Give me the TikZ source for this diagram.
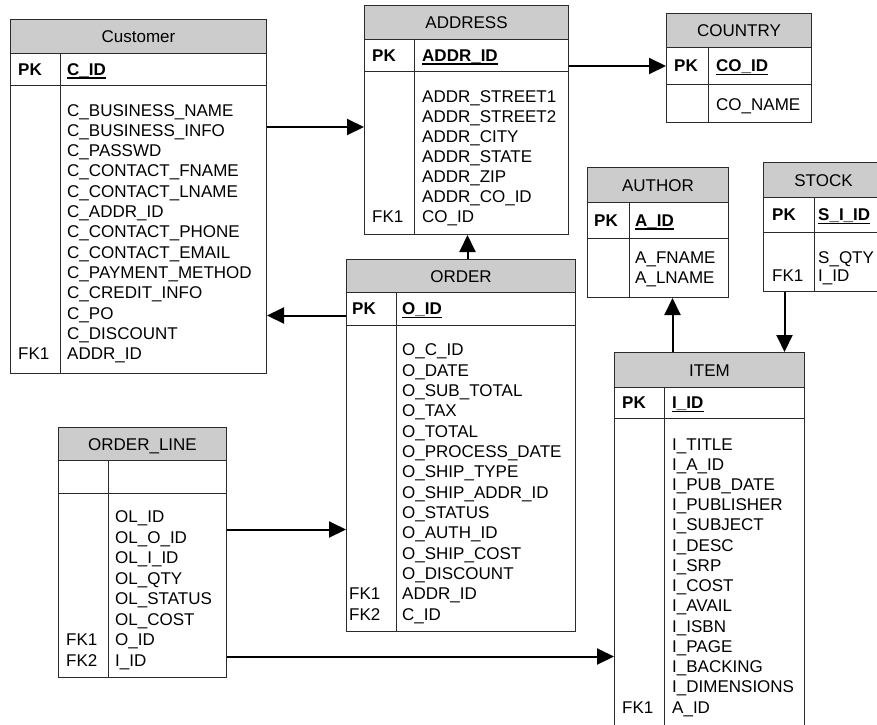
\documentclass[tikz,border=0pt]{standalone}
\usepackage{fontspec}
\setmainfont{Liberation Sans}
\usetikzlibrary{arrows.meta}
\definecolor{hdrgray}{HTML}{CCCCCC}
\definecolor{bordercol}{HTML}{2B2B2B}
\newcommand\ertext{\fontsize{17}{20.3}\selectfont}
\tikzset{
  hdr/.style={draw=bordercol, line width=1pt, fill=hdrgray, inner sep=0pt,
    text height=12.1pt, text depth=0pt, font=\ertext},
  rowbox/.style={draw=bordercol, line width=1pt, fill=white, inner sep=0pt},
  fld/.style={anchor=base west, inner sep=0pt, font=\ertext},
  cellkey/.style={anchor=west, inner sep=0pt, text height=12.1pt, text depth=0pt,
    font=\ertext\bfseries},
  divline/.style={draw=bordercol, line width=1pt},
  conn/.style={line width=2pt, -{Triangle[length=17pt,width=16pt]}}
}
% #1 name, #2 left, #3 top, #4 right, #5 header bottom, #6 key bottom, #7 bottom, #8 divider x, #9 title
\newcommand\ertable[9]{%
  \node[hdr, anchor=north west, minimum width={(#4-#2)*1pt}, minimum height={(#5-#3)*1pt}] (#1-h) at (#2,#3) {#9};
  \node[rowbox, anchor=north west, minimum width={(#4-#2)*1pt}, minimum height={(#6-#5)*1pt}] (#1-k) at (#2,#5) {};
  \node[rowbox, anchor=north west, minimum width={(#4-#2)*1pt}, minimum height={(#7-#6)*1pt}] (#1-b) at (#2,#6) {};
  \draw[divline] (#8,#5) -- (#8,#7);
}
% #1 name, #2 label x, #3 row centre y, #4 key x, #5 label, #6 key
\newcommand\erpk[6]{%
  \node[cellkey] (#1-pkl) at (#2,#3) {#5};
  \node[cellkey] (#1-pkt) at (#4,#3) {#6};
  \draw[line width=1.4pt] ([yshift=-2.8pt]#1-pkt.south west) -- ([yshift=-2.8pt]#1-pkt.south east);
}
% #1 name, #2 x, #3 first baseline, #4 step, #5 list
\newcommand\erfields[5]{%
  \foreach \fname [count=\fidx] in {#5} {\node[fld] (#1-f\fidx) at (#2,{#3+(\fidx-1)*#4}) {\fname};}
}
\newcommand\erfk[4]{\node[fld] (#1-#2) at (#3,#4) {#2};}
\begin{document}
\begin{tikzpicture}[x=1pt,y=-1pt]
\useasboundingbox (0,0) rectangle (877,724);
\fill[white] (0,0) rectangle (877,724);
\clip (0,0) rectangle (877,724);

% Customer
\ertable{cust}{10}{19}{266}{53}{85}{373}{60}{Customer}
\erpk{cust}{18}{69}{67}{PK}{C\_ID}
\erfields{cust}{67}{116}{20.33}{C\_BUSINESS\_NAME,C\_BUSINESS\_INFO,C\_PASSWD,C\_CONTACT\_FNAME,C\_CONTACT\_LNAME,C\_ADDR\_ID,C\_CONTACT\_PHONE,C\_CONTACT\_EMAIL,C\_PAYMENT\_METHOD,C\_CREDIT\_INFO,C\_PO,C\_DISCOUNT,ADDR\_ID}
\erfk{cust}{FK1}{18}{359.96}

% ADDRESS
\ertable{addr}{364}{5}{568}{39}{71}{234}{414}{ADDRESS}
\erpk{addr}{372}{55}{422}{PK}{ADDR\_ID}
\erfields{addr}{422}{102}{20.12}{ADDR\_STREET1,ADDR\_STREET2,ADDR\_CITY,ADDR\_STATE,ADDR\_ZIP,ADDR\_CO\_ID,CO\_ID}
\erfk{addr}{FK1}{372}{222.7}

% COUNTRY
\ertable{country}{666}{13}{811}{47}{84}{122}{708}{COUNTRY}
\erpk{country}{674}{65.5}{716}{PK}{CO\_ID}
\erfields{country}{716}{110}{20}{CO\_NAME}

% AUTHOR
\ertable{author}{587}{167}{728}{202}{238}{297}{629}{AUTHOR}
\erpk{author}{594}{220}{635}{PK}{A\_ID}
\erfields{author}{635}{263}{20}{A\_FNAME,A\_LNAME}

% STOCK
\ertable{stock}{763}{162}{883}{197}{232}{291}{814}{STOCK}
\erpk{stock}{772}{214.5}{818}{PK}{S\_I\_ID}
\erfields{stock}{818}{263}{18.5}{S\_QTY,I\_ID}
\erfk{stock}{FK1}{772}{281.5}

% ITEM
\ertable{item}{614}{352}{804}{387}{418}{740}{664}{ITEM}
\erpk{item}{622}{402.5}{672}{PK}{I\_ID}
\erfields{item}{672}{450}{20.23}{I\_TITLE,I\_A\_ID,I\_PUB\_DATE,I\_PUBLISHER,I\_SUBJECT,I\_DESC,I\_SRP,I\_COST,I\_AVAIL,I\_ISBN,I\_PAGE,I\_BACKING,I\_DIMENSIONS,A\_ID}
\erfk{item}{FK1}{622}{713}

% ORDER
\ertable{order}{346}{259}{575}{292}{325}{631}{396}{ORDER}
\erpk{order}{352}{308.5}{402}{PK}{O\_ID}
\erfields{order}{402}{355.7}{20.33}{O\_C\_ID,O\_DATE,O\_SUB\_TOTAL,O\_TAX,O\_TOTAL,O\_PROCESS\_DATE,O\_SHIP\_TYPE,O\_SHIP\_ADDR\_ID,O\_STATUS,O\_AUTH\_ID,O\_SHIP\_COST,O\_DISCOUNT,ADDR\_ID,C\_ID}
\erfk{order}{FK1}{349}{599.7}
\erfk{order}{FK2}{349}{620}

% ORDER_LINE
\ertable{ol}{58}{427}{226}{460}{493}{677}{108}{ORDER\_LINE}
\erfields{ol}{115}{522.7}{20.47}{OL\_ID,OL\_O\_ID,OL\_I\_ID,OL\_QTY,OL\_STATUS,OL\_COST,O\_ID,I\_ID}
\erfk{ol}{FK1}{66}{645.5}
\erfk{ol}{FK2}{66}{666}

% connectors
\coordinate (p1) at ([yshift=-42pt]cust-b.north east);
\draw[conn] (p1) -- (p1 -| addr-b.west);
\coordinate (p2) at (addr-k.east |- country-k.west);
\draw[conn] (p2) -- (country-k.west);
\coordinate (p3) at ([yshift=-6.5pt]order-k.west);
\draw[conn] (p3) -- (p3 -| cust-b.east);
\coordinate (p4) at ([xshift=6.5pt]order-h.north);
\draw[conn] (p4) -- (p4 |- addr-b.south);
\coordinate (p5) at ([xshift=-37pt]item-h.north);
\draw[conn] (p5) -- (p5 |- author-b.south);
\coordinate (p6) at ([xshift=-39pt]stock-b.south);
\draw[conn] (p6) -- (p6 |- item-h.north);
\coordinate (p7) at ([yshift=56pt]ol-b.east);
\draw[conn] (p7) -- (p7 -| order-b.west);
\coordinate (p8) at ([yshift=-71pt]ol-b.east);
\draw[conn] (p8) -- (p8 -| item-b.west);
\end{tikzpicture}
\end{document}
